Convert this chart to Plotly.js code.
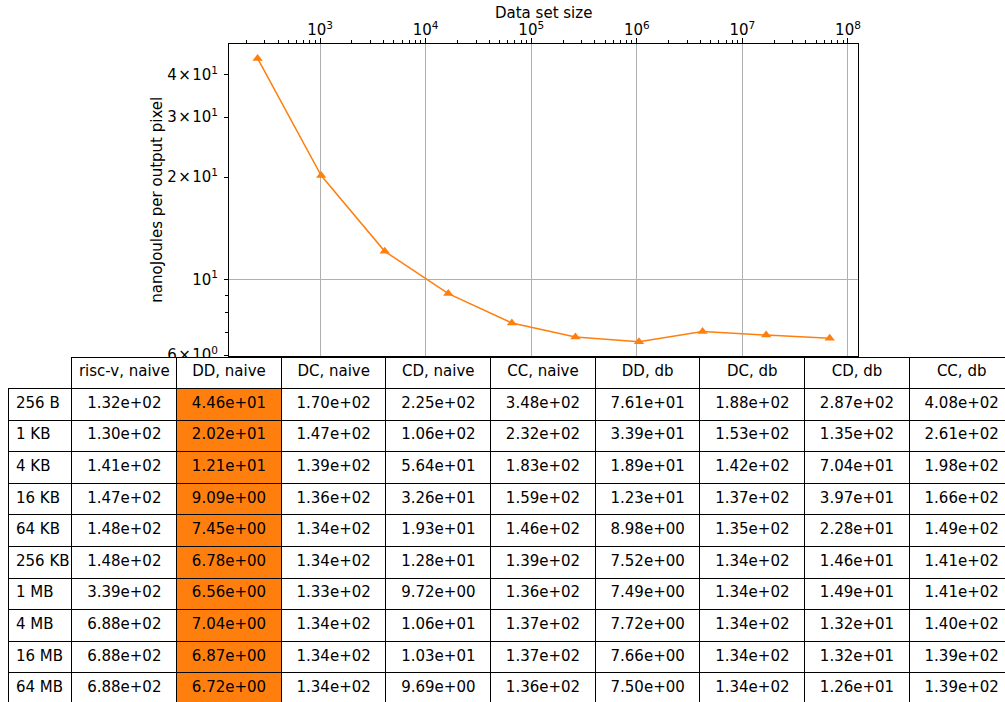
<!DOCTYPE html>
<html><head><meta charset="utf-8">
<script src="https://cdn.plot.ly/plotly-3.0.1.min.js"></script>
<style>html,body{margin:0;padding:0;overflow:hidden;background:#fff}#chart{width:1016px;height:706px}</style>
</head><body><div id="chart"></div>
<script>
// ---- data ----
const sizeLabels = ['256 B','1 KB','4 KB','16 KB','64 KB','256 KB','1 MB','4 MB','16 MB','64 MB'];
const dataSetSize = [256,1024,4096,16384,65536,262144,1048576,4194304,16777216,67108864];
const columnNames = ['risc-v, naive','DD, naive','DC, naive','CD, naive','CC, naive','DD, db','DC, db','CD, db','CC, db'];
const riscvNaive = [132,130,141,147,148,148,339,688,688,688];
const ddNaive = [44.6,20.2,12.1,9.09,7.45,6.78,6.56,7.04,6.87,6.72];
const dcNaive = [170,147,139,136,134,134,133,134,134,134];
const cdNaive = [225,106,56.4,32.6,19.3,12.8,9.72,10.6,10.3,9.69];
const ccNaive = [348,232,183,159,146,139,136,137,137,136];
const ddDb = [76.1,33.9,18.9,12.3,8.98,7.52,7.49,7.72,7.66,7.50];
const dcDb = [188,153,142,137,135,134,134,134,134,134];
const cdDb = [287,135,70.4,39.7,22.8,14.6,14.9,13.2,13.2,12.6];
const ccDb = [408,261,198,166,149,141,141,140,139,139];
const xTickVals = [1e3,1e4,1e5,1e6,1e7,1e8];
const xTickText = ['10<sup>3</sup>','10<sup>4</sup>','10<sup>5</sup>','10<sup>6</sup>','10<sup>7</sup>','10<sup>8</sup>'];
const yTickVals = [6,10,20,30,40];
const yTickText = ['6\u200a×\u200a10<sup>0</sup>','10<sup>1</sup>','2\u200a×\u200a10<sup>1</sup>','3\u200a×\u200a10<sup>1</sup>','4\u200a×\u200a10<sup>1</sup>'];
const yMinorVals = [7,8,9];
const yGridVals = [10];
const xTitle = 'Data set size';
const yTitle = 'nanoJoules per output pixel';
const highlighted = 'DD, naive';

// ---- helpers ----
const series = [riscvNaive, ddNaive, dcNaive, cdNaive, ccNaive, ddDb, dcDb, cdDb, ccDb];
function fmt(v){
  const s = v.toExponential(2);
  const m = s.match(/^(-?[\d.]+)e([+-])(\d+)$/);
  return m[1] + 'e' + m[2] + (m[3].length < 2 ? '0' + m[3] : m[3]);
}
const nb = s => s.replace(/ /g, '\u00a0');
const W = 1016, H = 706;
const FONT = 'DejaVu Sans';
const FS = 15;

function logRange(arr){
  const lo = Math.log10(Math.min(...arr)), hi = Math.log10(Math.max(...arr));
  const m = (hi - lo) * 0.05;
  return [lo - m, hi + m];
}
const xr = logRange(dataSetSize);
const yr = logRange(ddNaive);

const xMinor = [];
for (let d = 2; d <= 8; d++) for (let k = 2; k <= 9; k++) {
  const v = k * Math.pow(10, d);
  if (Math.log10(v) > xr[0] && Math.log10(v) < xr[1]) xMinor.push(v);
}

const line = {
  type: 'scatter', mode: 'lines+markers',
  x: dataSetSize, y: ddNaive,
  line: {color: '#ff7f0e', width: 1.5},
  marker: {symbol: 'triangle-up', size: 9, color: '#ff7f0e'},
  xaxis: 'x', yaxis: 'y', hoverinfo: 'x+y'
};

const table = {
  type: 'table',
  domain: {x: [8 / W, 1014.5 / W], y: [0, 1 - 357 / H]},
  columnwidth: [64].concat(columnNames.map(() => 104.7)),
  header: {
    values: [''].concat(columnNames.map(nb)),
    height: 31.5,
    align: 'center',
    fill: {color: ['rgba(0,0,0,0)'].concat(columnNames.map(() => 'white'))},
    line: {color: ['rgba(0,0,0,0)'].concat(columnNames.map(() => 'black')), width: 1},
    font: {family: FONT, size: FS, color: 'black'}
  },
  cells: {
    values: [sizeLabels.map(nb)].concat(series.map(s => s.map(fmt))),
    height: 31.6,
    align: ['left'].concat(columnNames.map(() => 'center')),
    fill: {color: ['white'].concat(columnNames.map(c => c === highlighted ? '#ff7f0e' : 'white'))},
    line: {color: 'black', width: 1},
    font: {family: FONT, size: FS, color: 'black'}
  }
};

const axisCommon = {
  type: 'log', ticks: 'outside', tickcolor: 'black', tickwidth: 1,
  showline: true, linecolor: 'black', linewidth: 1, mirror: true,
  zeroline: false, automargin: false,
  tickfont: {family: FONT, size: FS, color: 'black'}
};

const layout = {
  width: W, height: H,
  margin: {l: 0, r: 0, t: 0, b: 0},
  paper_bgcolor: 'white', plot_bgcolor: 'white',
  showlegend: false,
  font: {family: FONT, size: FS, color: 'black'},
  xaxis: Object.assign({}, axisCommon, {
    side: 'top', domain: [229 / W, 858.3 / W], range: xr,
    tickmode: 'array', tickvals: xTickVals, ticktext: xTickText, ticklen: 5,
    ticklabelstandoff: -3,
    showgrid: true, gridcolor: '#b0b0b0', gridwidth: 1,
    minor: {tickmode: 'array', tickvals: xMinor, ticks: 'outside', ticklen: 3, tickwidth: 1, tickcolor: 'black', showgrid: false}
  }),
  yaxis: Object.assign({}, axisCommon, {
    domain: [1 - 356 / H, 1 - 44.3 / H], range: yr,
    tickmode: 'array', tickvals: yTickVals, ticktext: yTickText, ticklen: 4,
    ticklabelstandoff: 3,
    showgrid: false,
    minor: {tickmode: 'array', tickvals: yMinorVals, ticks: 'outside', ticklen: 3, tickwidth: 1, tickcolor: 'black', showgrid: false}
  }),
  annotations: [
    {text: xTitle, xref: 'x domain', x: 0.5, yref: 'paper', y: 1 - 12.5 / H,
     xanchor: 'center', yanchor: 'middle', showarrow: false,
     font: {family: FONT, size: FS, color: 'black'}},
    {text: yTitle, xref: 'paper', x: 157.5 / W, yref: 'y domain', y: 0.5,
     xanchor: 'center', yanchor: 'middle', textangle: -90, showarrow: false,
     font: {family: FONT, size: FS, color: 'black'}}
  ],
  shapes: yGridVals.map(v => ({
    type: 'line', layer: 'below', xref: 'x domain', yref: 'y',
    x0: 0, x1: 1, y0: v, y1: v, line: {color: '#b0b0b0', width: 1}
  }))
};

Plotly.newPlot('chart', [line, table], layout, {displayModeBar: false, staticPlot: true});
</script></body></html>
